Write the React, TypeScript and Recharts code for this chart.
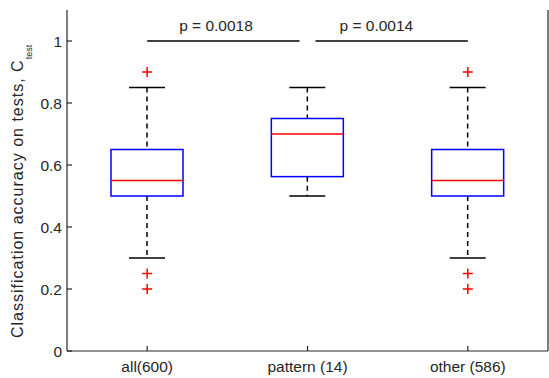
import React from 'react'
import { ComposedChart, Bar, Scatter, XAxis, YAxis, ReferenceLine, ReferenceDot } from 'recharts'

const categories = ['all(600)', 'pattern (14)', 'other (586)']
const whiskerLow = [0.3, 0.5, 0.3]
const quartile1 = [0.5, 0.5625, 0.5]
const medians = [0.55, 0.7, 0.55]
const quartile3 = [0.65, 0.75, 0.65]
const whiskerHigh = [0.85, 0.85, 0.85]

const outlierGroups = ['all(600)', 'all(600)', 'all(600)', 'other (586)', 'other (586)', 'other (586)']
const outlierValues = [0.9, 0.25, 0.2, 0.9, 0.25, 0.2]

const yTicks = [0, 0.2, 0.4, 0.6, 0.8, 1]

const pTexts = ['p = 0.0018', 'p = 0.0014']
const pFrom = ['all(600)', 'pattern (14)']
const pTo = ['pattern (14)', 'other (586)']
const pBarLevel = 1
const pTextLevel = 1.05

const FONT = '"Liberation Sans", Arial, Helvetica, sans-serif'
const INK = '#262626'

const boxData = categories.map((name, i) => ({
  name,
  range: [whiskerLow[i], whiskerHigh[i]],
  low: whiskerLow[i],
  q1: quartile1[i],
  median: medians[i],
  q3: quartile3[i],
  high: whiskerHigh[i],
}))

const outlierData = outlierValues.map((value, i) => ({ name: outlierGroups[i], value }))

// box + whiskers drawn inside the range bar [low, high]
function BoxShape(props: any) {
  const { x, y, width, height } = props
  const p = props.payload ?? props
  if (x == null || y == null || !height) return null
  const top = Math.min(y, y + height)
  const h = Math.abs(height)
  const py = (v: number) => top + ((p.high - v) / (p.high - p.low)) * h
  const cx = x + width / 2
  const cap = width / 4
  return (
    <g>
      <line x1={cx} x2={cx} y1={py(p.high)} y2={py(p.q3)} stroke="#000" strokeWidth={1.5} strokeDasharray="5 4" />
      <line x1={cx} x2={cx} y1={py(p.q1)} y2={py(p.low)} stroke="#000" strokeWidth={1.5} strokeDasharray="5 4" />
      <line x1={cx - cap} x2={cx + cap} y1={py(p.high)} y2={py(p.high)} stroke="#000" strokeWidth={1.5} />
      <line x1={cx - cap} x2={cx + cap} y1={py(p.low)} y2={py(p.low)} stroke="#000" strokeWidth={1.5} />
      <rect x={x} y={py(p.q3)} width={width} height={py(p.q1) - py(p.q3)} fill="none" stroke="#0000ff" strokeWidth={1.5} />
      <line x1={x} x2={x + width} y1={py(p.median)} y2={py(p.median)} stroke="#ff0000" strokeWidth={1.5} />
    </g>
  )
}

function PlusShape(props: any) {
  const { cx, cy } = props
  if (cx == null || cy == null) return null
  return (
    <g>
      <line x1={cx - 5} x2={cx + 5} y1={cy} y2={cy} stroke="#ff0000" strokeWidth={1.5} />
      <line x1={cx} x2={cx} y1={cy - 5} y2={cy + 5} stroke="#ff0000" strokeWidth={1.5} />
    </g>
  )
}

// significance bar, first one stops short of the middle box, second starts after it
function SigBar(trimStart: number, trimEnd: number) {
  return (p: any) => (
    <line x1={p.x1 + trimStart} x2={p.x2 - trimEnd} y1={p.y1} y2={p.y2} stroke="#000" strokeWidth={1.5} />
  )
}

function YLabel() {
  return (
    <text
      x={23}
      y={338}
      transform="rotate(-90 23 338)"
      fill={INK}
      fontSize={16}
      letterSpacing={1}
      fontFamily={FONT}
      textAnchor="start"
    >
      Classification accuracy on tests, C
      <tspan dy={9} fontSize={9} letterSpacing={0}>test</tspan>
    </text>
  )
}

export default function App() {
  return (
    <div style={{ position: 'absolute', left: 0, top: 0, background: '#fff' }}>
      <ComposedChart
        width={549}
        height={378}
        data={boxData}
        margin={{ top: 10, right: 0, bottom: 0, left: 0 }}
        style={{ fontFamily: FONT }}
      >
        <XAxis
          dataKey="name"
          type="category"
          allowDuplicatedCategory={false}
          height={27}
          tickSize={-5}
          tickMargin={15}
          stroke={INK}
          strokeWidth={1.2}
          tick={{ fill: INK, fontSize: 15.5, fontFamily: FONT }}
        />
        <XAxis
          xAxisId="top"
          dataKey="name"
          type="category"
          allowDuplicatedCategory={false}
          orientation="top"
          tick={false}
          tickSize={-5}
          height={0}
          stroke={INK}
          strokeWidth={1.2}
        />
        <YAxis
          type="number"
          domain={[0, 1.1]}
          ticks={yTicks}
          allowDataOverflow
          width={67}
          tickSize={-5}
          tickMargin={10}
          stroke={INK}
          strokeWidth={1.2}
          tick={{ fill: INK, fontSize: 15.5, fontFamily: FONT }}
          label={{ content: () => <YLabel /> }}
        />
        <YAxis
          yAxisId="right"
          orientation="right"
          type="number"
          domain={[0, 1.1]}
          ticks={yTicks}
          allowDataOverflow
          width={1}
          tick={false}
          tickSize={-5}
          stroke={INK}
          strokeWidth={1.2}
        />
        <Bar dataKey="range" barSize={72} shape={BoxShape} isAnimationActive={false} />
        <Scatter data={outlierData} dataKey="value" shape={PlusShape} isAnimationActive={false} />
        {pTexts.map((t, i) => (
          <ReferenceLine
            key={`bar-${i}`}
            segment={[{ x: pFrom[i], y: pBarLevel }, { x: pTo[i], y: pBarLevel }]}
            shape={SigBar(i === 0 ? 0 : 8, i === 0 ? 8 : 0)}
          />
        ))}
        {pTexts.map((t, i) => (
          <ReferenceDot
            key={`txt-${i}`}
            x={pFrom[i]}
            y={pTextLevel}
            r={0}
            shape={(s: any) => (
              <text x={s.cx + 32} y={s.cy} dy="0.35em" fill={INK} fontSize={15.5} fontFamily={FONT} textAnchor="start">
                {t}
              </text>
            )}
          />
        ))}
      </ComposedChart>
    </div>
  )
}
